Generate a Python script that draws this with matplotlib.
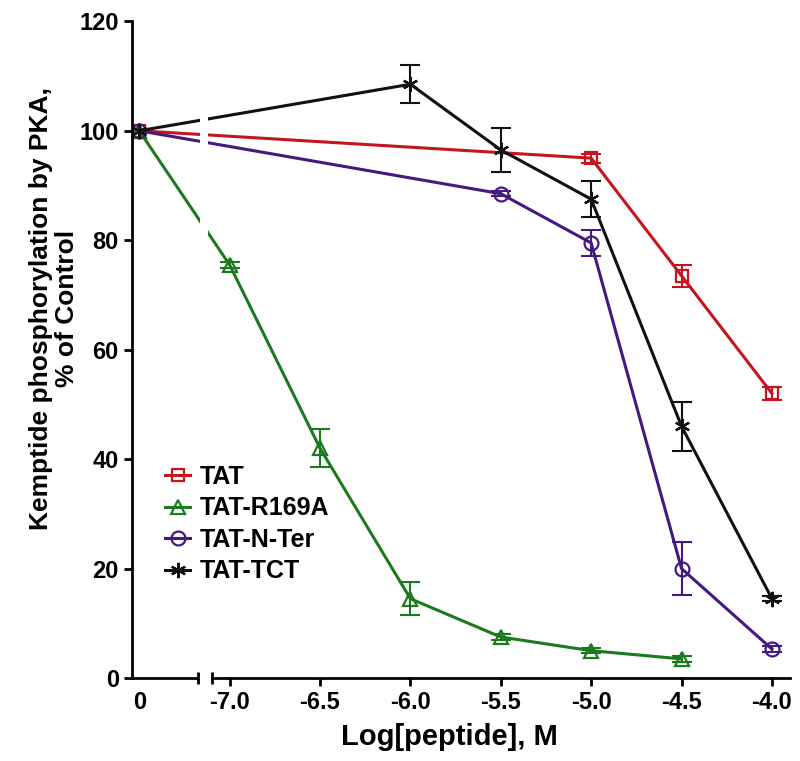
import numpy as np
import matplotlib
matplotlib.use('Agg')
import matplotlib.pyplot as plt

plt.rcParams['font.family'] = ['Liberation Sans', 'DejaVu Sans']
plt.rcParams['font.weight'] = 'bold'

# control (no peptide) is drawn at log = -7.5 and labelled "0"
control_pos = -7.5

tat_x = [control_pos, -5.0, -4.5, -4.0]
tat_y = [100, 95, 73.5, 52]
tat_err = [0, 0.8, 2, 1.2]

r169a_x = [control_pos, -7.0, -6.5, -6.0, -5.5, -5.0, -4.5]
r169a_y = [100, 75.5, 42, 14.5, 7.5, 5, 3.5]
r169a_err = [0, 0.5, 3.5, 3, 0.5, 0.5, 0.5]

nter_x = [control_pos, -5.5, -5.0, -4.5, -4.0]
nter_y = [100, 88.5, 79.5, 20, 5.3]
nter_err = [0, 0.5, 2.3, 4.8, 0.5]

tct_x = [control_pos, -6.0, -5.5, -5.0, -4.5, -4.0]
tct_y = [100, 108.5, 96.5, 87.5, 46, 14.5]
tct_err = [0, 3.5, 4, 3.3, 4.5, 0.5]

tick_pos = [control_pos, -7.0, -6.5, -6.0, -5.5, -5.0, -4.5, -4.0]
tick_lab = ['0', '-7.0', '-6.5', '-6.0', '-5.5', '-5.0', '-4.5', '-4.0']

fig = plt.figure(figsize=(8, 7.61), dpi=100)
ax = fig.add_axes([0.165, 0.109, 0.8225, 0.863])

series = [
    ('TAT', tat_x, tat_y, tat_err, '#C4161C', 's', 9),
    ('TAT-R169A', r169a_x, r169a_y, r169a_err, '#1C7A1E', '^', 10),
    ('TAT-N-Ter', nter_x, nter_y, nter_err, '#45197F', 'o', 10),
    ('TAT-TCT', tct_x, tct_y, tct_err, '#111111', (6, 2, 0), 11),
]
for name, x, y, e, c, m, ms in series:
    ax.plot(x, y, color=c, lw=2.2, marker=m, ms=ms, mfc='none', mec=c,
            mew=1.6, label=name, zorder=2)
    x = np.array(x)
    y = np.array(y)
    e = np.array(e)
    k = e > 0
    ax.errorbar(x[k], y[k], yerr=e[k], fmt='none', ecolor=c, capsize=7,
                elinewidth=1.5, capthick=1.5, zorder=2)

# gap in the curves at the axis break
ax.axvspan(-7.166, -7.12, color='white', zorder=3, lw=0)

ax.set_xlim(-7.54, -3.9)
ax.set_ylim(0, 120)
ax.set_yticks(np.arange(0, 121, 20))
ax.set_xticks(tick_pos)
ax.set_xticklabels(tick_lab)
ax.xaxis.get_major_ticks()[0].tick1line.set_visible(False)

ax.spines['top'].set_visible(False)
ax.spines['right'].set_visible(False)
for s in ['left', 'bottom']:
    ax.spines[s].set_linewidth(2)
ax.spines['bottom'].set_bounds(-7.1, -3.9)
ax.plot([-7.54, -7.177], [0, 0], color='black', lw=2, clip_on=False, zorder=4,
        solid_capstyle='butt')
ax.plot([-7.177, -7.1], [0, 0], ls='none', marker='|', ms=9, mew=2,
        color='black', clip_on=False, zorder=4)

ax.tick_params(axis='both', direction='out', width=2, length=6, labelsize=17)
for lab in ax.get_xticklabels() + ax.get_yticklabels():
    lab.set_fontweight('bold')

ax.set_xlabel('Log[peptide], M', fontsize=21, fontweight='bold')
ax.xaxis.set_label_coords(0.483, -0.068)
ax.set_ylabel('Kemptide phosphorylation by PKA,\n% of Control', fontsize=19,
              fontweight='bold', linespacing=1.15)
ax.yaxis.set_label_coords(-0.08, 0.563)

leg = ax.legend(loc='upper left', bbox_to_anchor=(0.035, 0.34), frameon=False,
                fontsize=18, handlelength=1.0, handletextpad=0.4,
                labelspacing=0.3, borderaxespad=0)
for t in leg.get_texts():
    t.set_fontweight('bold')

fig.savefig('out.png', dpi=100)
